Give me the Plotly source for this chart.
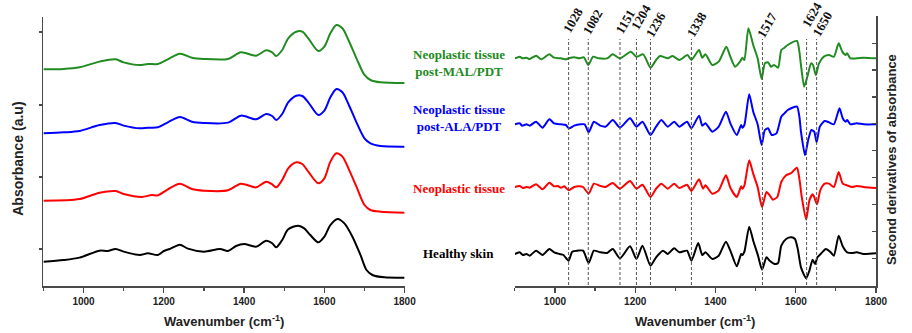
import plotly.graph_objects as go

# ---------------- Left panel: stacked absorbance spectra (a.u.) ----------------
wn_mal = [900, 950, 990, 1040, 1080, 1100, 1140, 1160, 1185, 1210,
          1240, 1270, 1300, 1360, 1392, 1430, 1455, 1470, 1480, 1495,
          1510, 1530, 1545, 1560, 1585, 1600, 1615, 1630, 1645, 1660,
          1680, 1700, 1715, 1740, 1800]
abs_mal = [3.009, 3.014, 3.037, 3.116, 3.148, 3.106, 3.069, 3.083, 3.083, 3.148,
           3.227, 3.171, 3.153, 3.153, 3.245, 3.199, 3.273, 3.245, 3.194, 3.278,
           3.440, 3.532, 3.532, 3.440, 3.264, 3.324, 3.509, 3.625, 3.579, 3.417,
           3.162, 2.931, 2.861, 2.829, 2.819]

wn_ala = [900, 950, 990, 1040, 1080, 1100, 1140, 1160, 1185, 1210,
          1240, 1270, 1300, 1360, 1392, 1430, 1455, 1470, 1480, 1495,
          1510, 1530, 1545, 1560, 1585, 1600, 1615, 1630, 1645, 1660,
          1680, 1700, 1715, 1740, 1800]
abs_ala = [2.120, 2.134, 2.153, 2.236, 2.264, 2.227, 2.190, 2.199, 2.204, 2.273,
           2.347, 2.282, 2.264, 2.269, 2.366, 2.315, 2.389, 2.361, 2.306, 2.389,
           2.551, 2.643, 2.639, 2.551, 2.375, 2.435, 2.620, 2.736, 2.690, 2.528,
           2.273, 2.051, 1.981, 1.944, 1.935]

wn_neo = [900, 990, 1040, 1080, 1100, 1145, 1170, 1185, 1210, 1240,
          1270, 1300, 1360, 1392, 1430, 1455, 1470, 1480, 1495, 1510,
          1530, 1545, 1560, 1585, 1600, 1615, 1630, 1645, 1660, 1680,
          1700, 1715, 1740, 1800]
abs_neo = [1.185, 1.208, 1.296, 1.319, 1.278, 1.236, 1.264, 1.259, 1.343, 1.421,
           1.347, 1.324, 1.329, 1.421, 1.370, 1.449, 1.412, 1.370, 1.472, 1.634,
           1.718, 1.694, 1.588, 1.426, 1.495, 1.727, 1.843, 1.796, 1.634, 1.380,
           1.125, 1.056, 1.032, 1.019]

wn_healthy = [900, 950, 990, 1040, 1060, 1080, 1100, 1140, 1160, 1185,
              1200, 1215, 1240, 1260, 1300, 1340, 1360, 1380, 1400, 1430,
              1455, 1470, 1480, 1495, 1510, 1535, 1550, 1565, 1585, 1600,
              1615, 1633, 1650, 1670, 1690, 1705, 1720, 1750, 1800]
abs_healthy = [0.338, 0.361, 0.394, 0.491, 0.486, 0.514, 0.477, 0.431, 0.454, 0.431,
               0.486, 0.514, 0.574, 0.519, 0.477, 0.514, 0.486, 0.556, 0.583, 0.546,
               0.630, 0.593, 0.537, 0.639, 0.787, 0.838, 0.801, 0.708, 0.606, 0.685,
               0.847, 0.931, 0.870, 0.685, 0.431, 0.222, 0.153, 0.120, 0.116]

# ---------------- Right panel: second derivatives (a.u.) ----------------
stack_offsets = [6.83, 4.85, 2.97, 0.99]  # MAL, ALA, neoplastic, healthy

wn_d_mal = [900, 912, 920, 929, 937, 953, 966, 986, 998, 1015,
            1027, 1034, 1048, 1060, 1072, 1083, 1095, 1109, 1130, 1144,
            1162, 1189, 1203, 1220, 1238, 1252, 1262, 1281, 1293, 1310,
            1330, 1340, 1359, 1367, 1375, 1392, 1408, 1427, 1437, 1449,
            1461, 1467, 1472, 1482, 1494, 1505, 1515, 1523, 1531, 1538,
            1546, 1556, 1564, 1572, 1580, 1603, 1609, 1613, 1621, 1630,
            1638, 1643, 1650, 1658, 1670, 1683, 1695, 1707, 1716, 1724,
            1728, 1736, 1752, 1769, 1800]
d2_mal = [0, 0.05, 0, 0.02, -0.02, 0.08, -0.03, 0.12, 0.02, 0,
          -0.03, 0, 0.03, 0, 0.03, -0.20, 0.05, 0, 0, 0.12,
          0, 0.20, 0.05, 0.12, -0.28, -0.05, 0.07, 0, 0.07, -0.05,
          0.10, -0.05, 0.25, 0.02, 0.12, -0.20, -0.10, 0.35, 0.05, -0.25,
          -0.10, 0.02, -0.05, 0.90, 0.40, 0, -0.62, -0.15, -0.12, -0.25,
          -0.20, -0.28, 0.25, 0.32, 0.40, 0.52, 0.20, -0.20, -0.85, -0.50,
          -0.15, -0.20, -0.50, -0.15, 0.05, 0.10, 0.05, 0.45, 0.20, 0.10,
          0.15, 0, 0, 0.02, 0]

wn_d_ala = [900, 912, 918, 929, 937, 953, 969, 986, 998, 1015,
            1027, 1035, 1048, 1064, 1074, 1084, 1097, 1113, 1126, 1144,
            1162, 1187, 1203, 1218, 1238, 1252, 1265, 1281, 1297, 1310,
            1329, 1340, 1359, 1367, 1375, 1392, 1408, 1426, 1437, 1453,
            1464, 1467, 1472, 1484, 1494, 1505, 1515, 1523, 1531, 1540,
            1552, 1564, 1572, 1580, 1603, 1609, 1613, 1623, 1631, 1639,
            1646, 1652, 1660, 1672, 1683, 1695, 1709, 1717, 1724, 1728,
            1736, 1752, 1769, 1800]
d2_ala = [0, 0.03, -0.04, 0, -0.04, 0.08, -0.10, 0.15, 0.03, 0,
          -0.02, -0.12, -0.04, 0, 0, -0.24, 0.08, -0.04, -0.07, 0.13,
          -0.10, 0.18, -0.07, 0.08, -0.32, -0.07, 0.13, -0.07, 0.08, -0.07,
          0.08, -0.12, 0.26, -0.04, 0.03, -0.22, -0.07, 0.38, 0.03, -0.32,
          -0.02, -0.10, -0.02, 0.90, 0.38, 0, -0.62, -0.17, -0.12, -0.32,
          -0.27, 0.23, 0.33, 0.43, 0.53, 0.23, -0.22, -0.92, -0.47, -0.17,
          -0.22, -0.54, -0.07, 0.10, 0.06, 0, 0.48, 0.18, 0.08, 0.13,
          0, 0.03, 0, 0]

wn_d_neo = [900, 912, 920, 929, 937, 953, 969, 986, 998, 1007,
            1015, 1023, 1034, 1048, 1060, 1070, 1084, 1097, 1113, 1126,
            1144, 1162, 1187, 1203, 1218, 1238, 1252, 1265, 1281, 1297,
            1310, 1329, 1340, 1359, 1369, 1375, 1392, 1408, 1426, 1437,
            1453, 1464, 1467, 1472, 1484, 1494, 1505, 1516, 1527, 1535,
            1543, 1554, 1564, 1576, 1589, 1603, 1609, 1615, 1626, 1634,
            1642, 1646, 1653, 1661, 1672, 1683, 1695, 1707, 1717, 1728,
            1740, 1752, 1769, 1800]
d2_neo = [0, 0.03, -0.03, 0, -0.02, 0.08, -0.07, 0.13, 0.02, 0.03,
          -0.02, 0.02, -0.10, 0, 0.02, 0, -0.20, 0.10, 0.03, 0,
          0.12, -0.05, 0.18, -0.05, 0.07, -0.30, -0.05, 0.10, -0.05, 0.10,
          -0.03, 0.07, -0.12, 0.23, -0.05, 0.05, -0.20, -0.10, 0.35, -0.02,
          -0.30, 0.02, -0.05, 0.05, 0.80, 0.40, 0, -0.60, -0.15, -0.25,
          -0.38, -0.30, 0.15, 0.35, 0.42, 0.58, 0.25, -0.30, -0.98, -0.40,
          -0.22, -0.30, -0.52, -0.10, 0.10, 0.10, 0, 0.45, 0.10, 0.05,
          0, 0.03, 0, -0.03]

wn_d_healthy = [900, 912, 920, 929, 937, 953, 969, 986, 998, 1011,
                1021, 1034, 1043, 1056, 1070, 1084, 1097, 1113, 1130, 1144,
                1162, 1187, 1203, 1218, 1238, 1252, 1269, 1281, 1297, 1310,
                1329, 1340, 1357, 1367, 1375, 1392, 1408, 1426, 1437, 1453,
                1464, 1467, 1472, 1484, 1494, 1506, 1516, 1527, 1535, 1548,
                1556, 1564, 1576, 1589, 1598, 1605, 1613, 1626, 1634, 1642,
                1648, 1654, 1662, 1675, 1687, 1695, 1707, 1717, 1728, 1740,
                1752, 1769, 1800]
d2_healthy = [-0.03, 0.02, -0.06, -0.03, -0.08, 0.07, -0.06, 0.12, 0.02, -0.03,
              -0.06, -0.23, 0.04, 0.07, 0.07, -0.30, 0.07, 0.02, 0, 0.12,
              -0.16, 0.20, -0.18, 0.22, -0.38, -0.13, 0.07, -0.03, 0.14, 0.02,
              0.07, -0.23, 0.30, -0.06, 0.02, -0.18, -0.08, 0.34, 0.07, -0.40,
              -0.03, -0.06, 0.04, 0.79, 0.37, -0.08, -0.50, -0.13, -0.23, -0.33,
              -0.30, 0.22, 0.42, 0.47, 0.42, 0.12, -0.43, -0.76, -0.53, -0.20,
              -0.33, -0.13, -0.03, 0.12, 0.02, -0.08, 0.52, 0.20, 0.02, 0,
              0.02, -0.03, -0.01]

# band assignments (label text, drawn position in cm-1)
band_labels = ["1028", "1082", "1151", "1204", "1236", "1338", "1517", "1624", "1650"]
band_positions = [1034, 1083, 1162, 1203, 1238, 1340, 1517, 1627, 1652]

series_names = ["Neoplastic tissue<br>post-MAL/PDT", "Neoplastic tissue<br>post-ALA/PDT",
                "Neoplastic tissue", "Healthy skin"]

# ---------------- styling ----------------
W, H = 912, 333
colors = ["#228B22", "#0000FF", "#FF0000", "#000000"]
AX = "#4a4a4a"
SERIF = "Liberation Serif"
SANS = "Liberation Sans"

def py(p):
    return 1 - p / H

fig = go.Figure()

left = [(wn_mal, abs_mal), (wn_ala, abs_ala), (wn_neo, abs_neo), (wn_healthy, abs_healthy)]
for (x, y), c in zip(left, colors):
    fig.add_trace(go.Scatter(x=x, y=y, mode="lines", xaxis="x", yaxis="y",
                             line=dict(color=c, width=2, shape="spline", smoothing=0.8),
                             showlegend=False, hoverinfo="skip"))

right = [(wn_d_mal, d2_mal), (wn_d_ala, d2_ala), (wn_d_neo, d2_neo), (wn_d_healthy, d2_healthy)]
for (x, d), off, c in zip(right, stack_offsets, colors):
    fig.add_trace(go.Scatter(x=x, y=[v + off for v in d], mode="lines", xaxis="x2", yaxis="y2",
                             line=dict(color=c, width=2, shape="spline", smoothing=0.6),
                             showlegend=False, hoverinfo="skip"))

xcommon = dict(range=[900, 1800], showgrid=False, zeroline=False, showline=True,
               linecolor=AX, linewidth=1.5, ticks="outside", ticklen=5, tickwidth=1.2,
               tickcolor=AX, tickvals=[1000, 1200, 1400, 1600, 1800],
               tickfont=dict(family=SANS, size=10, color="#222", weight="bold"),
               minor=dict(ticks="outside", ticklen=3, tickcolor=AX, tickwidth=1.2,
                          tickvals=[900, 1100, 1300, 1500, 1700]))

fig.update_layout(
    width=W, height=H, autosize=False, margin=dict(l=0, r=0, t=0, b=0),
    paper_bgcolor="white", plot_bgcolor="white",
    xaxis=dict(domain=[44 / W, 410 / W], anchor="y", **xcommon),
    yaxis=dict(domain=[py(286), py(17)], range=[0, 3.736], anchor="x",
               showgrid=False, zeroline=False, showline=True, linecolor=AX, linewidth=1.5,
               ticks="outside", ticklen=3, tickcolor=AX, tickwidth=1.2,
               tickvals=[0.514, 1.514, 2.514, 3.528], showticklabels=False),
    xaxis2=dict(domain=[521.7 / W, 887.7 / W], anchor="y2", **xcommon),
    yaxis2=dict(domain=[py(286), py(16)], range=[0, 8.1], anchor="x2", side="right",
                showgrid=False, zeroline=False, showline=True, linecolor=AX, linewidth=1.5,
                ticks="inside", ticklen=4, tickcolor=AX, tickwidth=1.2,
                tickvals=[0.83 + 0.807 * k for k in range(10)], showticklabels=False),
)

# dashed band lines + rotated labels
label_y_px = [20, 22, 21, 17, 24, 24, 25, 14, 24]
for pos, lab, ly in zip(band_positions, band_labels, label_y_px):
    fig.add_shape(type="line", xref="x2", yref="paper", x0=pos, x1=pos,
                  y0=py(285), y1=py(39), line=dict(color="#555", width=1, dash="3px,2px"))
    fig.add_annotation(x=pos, y=py(ly), xref="x2", yref="paper", text=lab, showarrow=False,
                       textangle=-60, xanchor="center", yanchor="middle", xshift=5,
                       font=dict(family=SERIF, size=13, color="#111", weight="bold"))

# series labels between panels
label_pos_px = [63.5, 118, 188, 253]
for name, c, ly in zip(series_names, colors, label_pos_px):
    fig.add_annotation(x=465 / W, y=py(ly), xref="paper", yref="paper", text=name,
                       showarrow=False, xanchor="center", yanchor="middle", align="center",
                       font=dict(family=SERIF, size=13, color=c, weight="bold"))

# axis titles
title_font = dict(family=SANS, size=13, color="#222", weight="bold")
for cx in [(44 + 410) / 2, (521.7 + 887.7) / 2]:
    fig.add_annotation(x=cx / W, y=py(321), xref="paper", yref="paper",
                       text="Wavenumber (cm<sup>-1</sup>)", showarrow=False,
                       xanchor="center", yanchor="middle", font=title_font)
fig.add_annotation(x=18 / W, y=py(159), xref="paper", yref="paper", text="Absorbance (a.u)",
                   showarrow=False, textangle=-90, xanchor="center", yanchor="middle",
                   font=dict(family=SANS, size=14, color="#222", weight="bold"))
fig.add_annotation(x=903 / W, y=py(160), xref="paper", yref="paper",
                   text="Second derivatives of absorbance", showarrow=False, textangle=-90,
                   xanchor="center", yanchor="middle", font=title_font)

fig.write_html("out.html",
               config={"displayModeBar": False, "staticPlot": True, "responsive": False},
               post_script="document.body.style.margin='0px';document.body.style.overflow='hidden';")
